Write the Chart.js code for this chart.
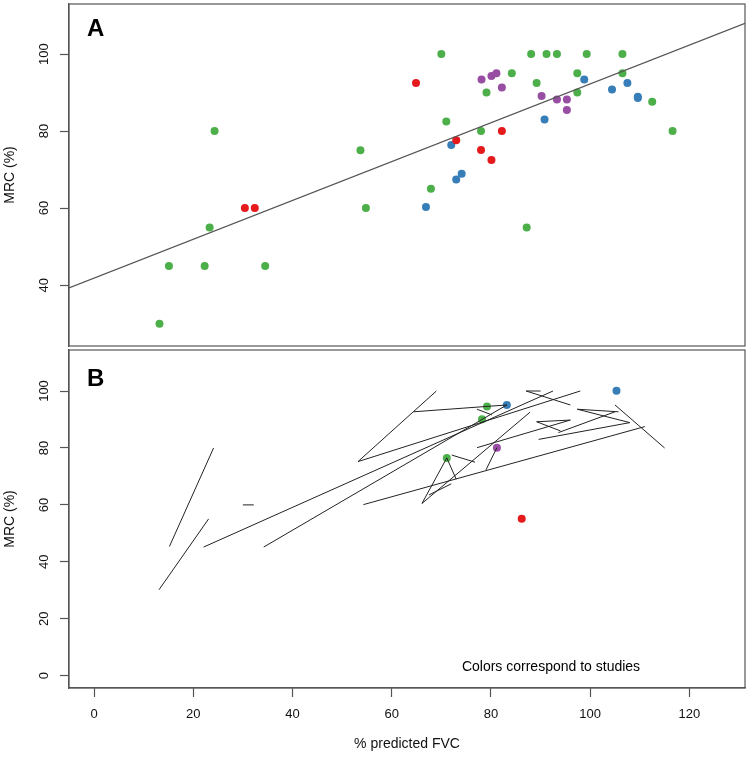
<!DOCTYPE html>
<html>
<head>
<meta charset="utf-8">
<script src="https://cdn.jsdelivr.net/npm/chart.js@4.4.0/dist/chart.umd.min.js"></script>
<style>
  body { margin: 0; background: #fff; }
  #wrap { position: relative; width: 750px; height: 759px; }
  canvas { position: absolute; left: 0; }
  #chartA { top: 0; }
  #chartB { top: 345px; }
</style>
</head>
<body>
<div id="wrap">
  <canvas id="chartA" width="750" height="350"></canvas>
  <canvas id="chartB" width="750" height="414"></canvas>
</div>
<script>
// Tick labels
const xTicks = [0, 20, 40, 60, 80, 100, 120];
const yTicksA = [40, 60, 80, 100];
const yTicksB = [0, 20, 40, 60, 80, 100];

// Panel A: one array pair per study colour
const greenX = [24.3, 53.7, 54.8, 23.3, 15.1, 22.3, 34.5, 13.2, 70.0, 88.1, 91.2, 93.3, 99.3, 106.5,
                84.2, 79.1, 89.2, 97.4, 106.5, 97.4, 112.5, 71.0, 116.6, 78.0, 67.9, 87.2];
const greenY = [80, 75, 60, 55, 45, 45, 45, 30, 100, 100, 100, 100, 100, 100,
                95, 90, 92.5, 95, 95, 90, 87.6, 82.5, 80, 80, 65, 55];
const redX = [30.4, 32.4, 64.9, 82.2, 73.0, 78.0, 80.1];
const redY = [60, 60, 92.5, 80, 77.6, 75.1, 72.5];
const blueX = [98.8, 107.5, 104.4, 109.6, 109.6, 90.8, 72.0, 74.1, 73.0, 66.9];
const blueY = [93.4, 92.5, 90.8, 88.9, 88.6, 83.0, 76.4, 68.9, 67.4, 60.3];
const purpleX = [78.1, 80.1, 81.1, 82.2, 90.2, 93.3, 95.3, 95.3];
const purpleY = [93.4, 94.3, 95.0, 91.3, 89.1, 88.2, 88.2, 85.5];

// Panel A: fitted line, ends read at the plot edges
const fitX = [-5.04, 131.2];
const fitY = [39.3, 108.0];

// Panel B: change segments (start -> end)
const segX0 = [15.2, 13.1, 30.0, 22.1, 34.2, 53.2, 53.2, 64.4, 77.2, 54.3, 66.1, 71.1, 67.5,
               66.1, 72.1, 79.0, 77.2, 87.1, 87.1, 97.4, 97.4, 89.2, 89.2, 89.6, 93.6, 105.0];
const segY0 = [45.4, 30.2, 60.0, 45.2, 45.2, 75.2, 75.2, 92.7, 93.6, 60.1, 60.5, 76.5, 63.5,
               60.5, 77.5, 72.3, 80.1, 100, 100, 93.6, 93.6, 89.2, 89.2, 83.0, 85.4, 95.1];
const segX1 = [24.1, 23.1, 32.2, 92.5, 83.2, 69.0, 98.0, 83.2, 80.2, 111.0, 71.1, 73.0, 72.0,
               87.9, 76.8, 81.2, 96.0, 90.0, 96.0, 105.7, 108.0, 96.0, 94.0, 108.0, 105.0, 115.0];
const segY1 = [80.0, 55.1, 60.0, 100, 95.1, 100, 100, 95.1, 91.6, 87.5, 76.5, 69.0, 67.4,
               92.6, 75.0, 80.1, 89.8, 100, 95.1, 92.7, 88.9, 89.8, 86.0, 88.9, 92.7, 80.0];

// Panel B: single points
const bGreenX = [79.2, 78.2, 71.1];
const bGreenY = [94.6, 90.1, 76.5];
const bBlueX = [105.3, 83.2];
const bBlueY = [100.1, 95.1];
const bPurpleX = [81.2];
const bPurpleY = [80.1];
const bRedX = [86.2];
const bRedY = [55.1];

const GREEN = '#4daf4a', RED = '#e41a1c', BLUE = '#377eb8', PURPLE = '#984ea3';
const AXIS = '#555';
const FONT = "'Liberation Sans', Arial, sans-serif";

function pts(xs, ys) {
    return xs.map((x, i) => ({ x: x, y: ys[i] }));
}

function pointSet(xs, ys, color) {
    return {
        data: pts(xs, ys),
        backgroundColor: color,
        borderWidth: 0,
        pointRadius: 4,
        showLine: false
    };
}

// Segments joined into one line with gaps between them
function segmentData() {
    const out = [];
    for (let i = 0; i < segX0.length; i++) {
        out.push({ x: segX0[i], y: segY0[i] });
        out.push({ x: segX1[i], y: segY1[i] });
        out.push({ x: segX1[i], y: null });
    }
    return out;
}

function yAxis(min, max, ticks) {
    return {
        min: min,
        max: max,
        afterBuildTicks: s => { s.ticks = ticks.map(v => ({ value: v })); },
        afterFit: s => {
            s.width = 69;
            // rotated labels would otherwise push the plot area in
            s.paddingTop = 0;
            s.paddingBottom = 0;
        },
        ticks: {
            minRotation: 90,
            maxRotation: 90,
            crossAlign: 'center',
            padding: 5,
            color: '#111',
            font: { family: FONT, size: 13 }
        },
        grid: { drawOnChartArea: false, tickLength: 9, color: AXIS, tickWidth: 1.2 },
        border: { color: AXIS, width: 1.2 },
        title: {
            display: true,
            text: 'MRC (%)',
            color: '#111',
            font: { family: FONT, size: 14 },
            padding: { top: 2, bottom: 0 }
        }
    };
}

// Box round the plot area plus panel texts
const panelText = {
    id: 'panelText',
    afterDraw(chart, args, opts) {
        const ctx = chart.ctx;
        const a = chart.chartArea;
        ctx.save();
        ctx.strokeStyle = AXIS;
        ctx.lineWidth = 1.2;
        ctx.strokeRect(a.left, a.top, a.right - a.left, a.bottom - a.top);
        ctx.fillStyle = '#000';
        ctx.font = 'bold 24px ' + FONT;
        ctx.textAlign = 'left';
        ctx.textBaseline = 'alphabetic';
        ctx.fillText(opts.letter, a.left + 18, a.top + opts.letterY);
        if (opts.note) {
            ctx.font = '14px ' + FONT;
            ctx.textAlign = 'center';
            ctx.fillText(opts.note, a.right - 194, a.bottom - 17);
        }
        ctx.restore();
    }
};

const common = {
    responsive: false,
    animation: false,
    plugins: { legend: { display: false }, tooltip: { enabled: false } }
};

new Chart(document.getElementById('chartA'), {
    type: 'scatter',
    data: {
        datasets: [
            {
                data: pts(fitX, fitY),
                showLine: true,
                borderColor: AXIS,
                borderWidth: 1.3,
                pointRadius: 0
            },
            pointSet(greenX, greenY, GREEN),
            pointSet(redX, redY, RED),
            pointSet(blueX, blueY, BLUE),
            pointSet(purpleX, purpleY, PURPLE)
        ]
    },
    options: Object.assign({}, common, {
        layout: { padding: { left: 0, right: 5, top: 3, bottom: 2 } },
        plugins: Object.assign({}, common.plugins, { panelText: { letter: 'A', letterY: 32 } }),
        scales: {
            x: { type: 'linear', min: -5.04, max: 131.2, display: false },
            y: yAxis(24.2, 113, yTicksA)
        }
    }),
    plugins: [panelText]
});

new Chart(document.getElementById('chartB'), {
    type: 'scatter',
    data: {
        datasets: [
            {
                data: segmentData(),
                showLine: true,
                spanGaps: false,
                borderColor: '#222',
                borderWidth: 1,
                pointRadius: 0
            },
            pointSet(bGreenX, bGreenY, GREEN),
            pointSet(bBlueX, bBlueY, BLUE),
            pointSet(bPurpleX, bPurpleY, PURPLE),
            pointSet(bRedX, bRedY, RED)
        ]
    },
    options: Object.assign({}, common, {
        layout: { padding: { left: 0, right: 5, top: 5, bottom: 0 } },
        plugins: Object.assign({}, common.plugins, {
            panelText: { letter: 'B', letterY: 36, note: 'Colors correspond to studies' }
        }),
        scales: {
            x: {
                type: 'linear',
                min: -5.04,
                max: 131.2,
                afterBuildTicks: s => { s.ticks = xTicks.map(v => ({ value: v })); },
                afterFit: s => {
                    s.height = 71;
                    s.paddingLeft = 0;
                    s.paddingRight = 0;
                },
                ticks: { padding: 10, color: '#111', font: { family: FONT, size: 13 } },
                grid: { drawOnChartArea: false, tickLength: 9, color: AXIS, tickWidth: 1.2 },
                border: { color: AXIS, width: 1.2 },
                title: {
                    display: true,
                    text: '% predicted FVC',
                    color: '#111',
                    font: { family: FONT, size: 14 },
                    padding: { top: 4, bottom: 6 }
                }
            },
            y: yAxis(-4.3, 114.4, yTicksB)
        }
    }),
    plugins: [panelText]
});
</script>
</body>
</html>
